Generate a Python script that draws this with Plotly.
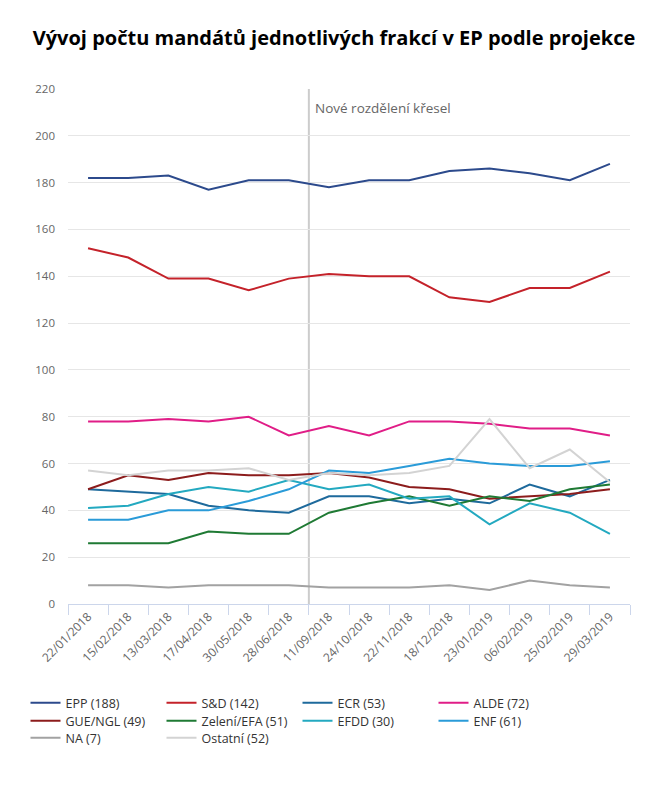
import plotly.graph_objects as go

dates = ["22/01/2018", "15/02/2018", "13/03/2018", "17/04/2018", "30/05/2018", "28/06/2018",
         "11/09/2018", "24/10/2018", "22/11/2018", "18/12/2018", "23/01/2019", "06/02/2019",
         "25/02/2019", "29/03/2019"]

epp = [182, 182, 183, 177, 181, 181, 178, 181, 181, 185, 186, 184, 181, 188]
sd = [152, 148, 139, 139, 134, 139, 141, 140, 140, 131, 129, 135, 135, 142]
ecr = [49, 48, 47, 42, 40, 39, 46, 46, 43, 45, 43, 51, 46, 53]
alde = [78, 78, 79, 78, 80, 72, 76, 72, 78, 78, 77, 75, 75, 72]
gue = [49, 55, 53, 56, 55, 55, 56, 54, 50, 49, 45, 46, 47, 49]
greens = [26, 26, 26, 31, 30, 30, 39, 43, 46, 42, 46, 44, 49, 51]
efdd = [41, 42, 47, 50, 48, 53, 49, 51, 45, 46, 34, 43, 39, 30]
enf = [36, 36, 40, 40, 44, 49, 57, 56, 59, 62, 60, 59, 59, 61]
na = [8, 8, 7, 8, 8, 8, 7, 7, 7, 8, 6, 10, 8, 7]
others = [57, 55, 57, 57, 58, 53, 56, 55, 56, 59, 79, 58, 66, 52]

series = [
    ("EPP (188)", epp, "#2c4a8c", "legend"),
    ("S&D (142)", sd, "#c4222a", "legend"),
    ("ECR (53)", ecr, "#1e6a9c", "legend"),
    ("ALDE (72)", alde, "#e01d87", "legend"),
    ("GUE/NGL (49)", gue, "#8c1c1c", "legend2"),
    ("Zelení/EFA (51)", greens, "#1f7a34", "legend2"),
    ("EFDD (30)", efdd, "#23a9c0", "legend2"),
    ("ENF (61)", enf, "#2a9bd8", "legend2"),
    ("NA (7)", na, "#a2a2a2", "legend3"),
    ("Ostatní (52)", others, "#d3d3d3", "legend3"),
]

title_text = "Vývoj počtu mandátů jednotlivých frakcí v EP podle projekce"
note_text = "Nové rozdělení křesel"

W, H = 652, 782

fig = go.Figure()
for name, vals, color, lg in series:
    fig.add_trace(go.Scatter(x=dates, y=vals, name=name, mode="lines",
                             line=dict(color=color, width=2), legend=lg))

fig.add_shape(type="line", xref="x", yref="paper", x0=5.5, x1=5.5, y0=0, y1=1,
              line=dict(color="#cccccc", width=2), layer="below")
fig.add_annotation(x=5.5, y=212, xref="x", yref="y", text=note_text, showarrow=False,
                   xanchor="left", yanchor="middle", xshift=4,
                   font=dict(family="Open Sans", size=13.5, color="#666666"))

legend_common = dict(orientation="h", xref="container", yref="container", x=17.5 / W,
                     xanchor="left", yanchor="middle", entrywidth=91, entrywidthmode="pixels",
                     font=dict(family="Open Sans", size=12.5, color="#333333"),
                     bgcolor="rgba(0,0,0,0)", tracegroupgap=0, itemclick=False)

fig.update_layout(
    width=W, height=H,
    margin=dict(l=60, r=30, t=81, b=186, autoexpand=False),
    paper_bgcolor="white", plot_bgcolor="white",
    title=dict(text="<b>" + title_text + "</b>", x=0.5, xanchor="center", y=1 - 30 / H,
               yanchor="middle", font=dict(family="Open Sans", size=20, color="#000000")),
    xaxis=dict(type="category", range=[-0.5, 13.5], tickangle=-45, showgrid=False,
               showline=True, linecolor="#ccd6eb", linewidth=1, ticks="outside", ticklen=10,
               tickcolor="#ccd6eb", tickson="boundaries", zeroline=False,
               tickfont=dict(family="Open Sans", size=12, color="#666666")),
    yaxis=dict(range=[0, 220], dtick=20, showgrid=True, gridcolor="#e6e6e6", gridwidth=1,
               zeroline=False, showline=False, ticks="", ticklabelstandoff=12,
               tickfont=dict(family="Open Sans", size=11.5, color="#666666")),
    showlegend=True,
    legend=dict(legend_common, y=1 - 695 / H),
    legend2=dict(legend_common, y=1 - 713 / H),
    legend3=dict(legend_common, y=1 - 730 / H),
)

fig.write_html("out.html")
